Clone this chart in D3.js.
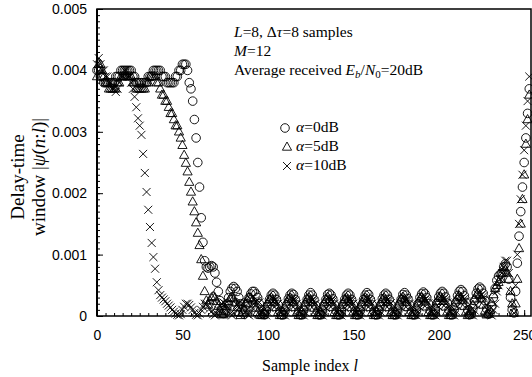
<!DOCTYPE html>
<html>
<head>
<meta charset="utf-8">
<script src="https://cdn.jsdelivr.net/npm/d3@7"></script>
<style>
  body { margin: 0; background: #fff; }
  svg { display: block; font-family: "Liberation Serif", "Times New Roman", serif; }
</style>
</head>
<body>
<div id="chart"></div>
<script>
// |psi(n:l)|, sample l = 0..253
const alpha0 = [
  .0040, .0040, .0039, .0039, .0038, .0038, .0038, .0038, .0038, .0038,
  .0038, .0039, .0039, .0039, .0040, .0040, .0040, .0040, .0040, .0040,
  .0040, .0039, .0039, .0038, .0038, .0038, .0038, .0038, .0038, .0038,
  .0039, .0039, .0039, .0040, .0040, .0040, .0040, .0040, .0039, .0039,
  .0039, .0038, .0038, .0038, .0038, .0038, .0039, .0039, .0040, .0040,
  .0041, .0041, .0041, .0040, .0038, .0037, .0035, .0032, .0029, .0025,
  .0021, .0016, .0012, .0009, .0008, .00078, .0008, .00082, .0008, .0007,
  .00055, .0004, .00025, .00012, .00004, .0001, .0002, .0003, .0004, .00045,
  .00048, .00045, .0004, .0003, .0002, .0001, .00003, .0001, .0002, .0003,
  .00036, .0004, .0004, .00036, .0003, .0002, .0001, .00004,
  .00002, .00008, .00018, .00027, .00034, .00037, .00034, .00027, .00018, .00008, .00002,
  .00002, .00008, .00018, .00028, .00034, .00037, .00035, .00027, .00018, .00008, .00002,
  .00002, .00009, .00018, .00027, .00034, .00038, .00034, .00027, .00017, .00008, .00002,
  .00002, .00008, .00018, .00027, .00035, .00037, .00034, .00028, .00018, .00008, .00002,
  .00002, .00008, .00019, .00027, .00034, .00037, .00034, .00027, .00018, .00009, .00002,
  .00002, .00008, .00018, .00027, .00034, .00038, .00035, .00027, .00018, .00008, .00002,
  .00002, .00009, .00018, .00028, .00034, .00037, .00034, .00027, .00018, .00008, .00002,
  .00002, .00008, .00018, .00027, .00035, .00038, .00034, .00028, .00018, .00008, .00002,
  .00002, .00009, .0002, .0003, .00036, .00039, .00036, .0003, .0002, .00009, .00002,
  .00002, .0001, .00021, .00031, .00037, .0004, .00037, .00031, .00021, .0001, .00002,
  .00002, .0001, .00022, .00033, .0004, .00043, .0004, .00033, .00022, .0001, .00002,
  .00003, .00012, .00025, .00037, .00044, .00047, .00044, .00037, .00025, .00012, .00003,
  .00005, .00015, .0003, .00045, .00058, .00065, .00068, .0007, .0008, .00085, .0008,
  .0006, .0003, .0001, .00005, .0004, .00086, .0013, .0017, .0021, .0025, .0029, .0033, .0037
];
const alpha5 = [
  .0039, .0041, .0041, .0040, .0039, .0038, .0038, .0037, .0037, .0037,
  .0037, .0037, .0038, .0038, .0039, .0039, .0039, .0039, .0039, .0039,
  .0039, .0038, .0038, .0037, .0037, .0037, .0037, .0037, .0037, .0038,
  .0038, .0039, .0039, .0039, .0039, .0038, .0038, .0037, .0036, .0036,
  .0035, .0035, .0034, .0033, .0033, .0032, .0031, .0031, .0030, .0029,
  .00278, .00262, .00249, .00235, .00218, .00202, .00186, .00170, .00152, .00135,
  .00115, .00092, .00065, .0004, .00025, .00018, .00025, .0003, .00032, .0003,
  .00024, .00016, .00008, .00003, .00002, .00008, .00016, .00024, .00029, .0003,
  .00028, .00022, .00014, .00006, .00001, .00005, .00013, .00021, .00027, .0003,
  .00029, .00026, .0002, .00013, .00006, .00002, .00001,
  .00001, .00006, .00014, .00022, .00027, .0003, .00027, .00022, .00014, .00006, .00001,
  .00001, .00006, .00014, .00023, .00027, .0003, .00028, .00022, .00014, .00006, .00001,
  .00001, .00007, .00014, .00022, .00028, .0003, .00027, .00022, .00013, .00006, .00001,
  .00001, .00006, .00015, .00022, .00027, .00031, .00027, .00022, .00014, .00006, .00001,
  .00001, .00006, .00014, .00022, .00027, .0003, .00027, .00023, .00014, .00007, .00001,
  .00001, .00006, .00014, .00022, .00028, .0003, .00028, .00022, .00014, .00006, .00001,
  .00001, .00007, .00014, .00022, .00027, .0003, .00027, .00022, .00014, .00006, .00001,
  .00001, .00006, .00015, .00023, .00028, .00031, .00028, .00022, .00014, .00006, .00001,
  .00001, .00006, .00015, .00023, .00028, .00031, .00028, .00023, .00015, .00006, .00001,
  .00001, .00007, .00015, .00024, .00029, .00032, .00029, .00024, .00015, .00007, .00001,
  .00001, .00007, .00016, .00025, .0003, .00033, .0003, .00025, .00016, .00007, .00001,
  .00002, .00008, .00018, .00028, .00034, .00038, .00034, .00028, .00018, .00008, .00002,
  .00003, .0001, .00022, .00035, .00045, .0005, .00055, .0006, .0007, .0008, .00075,
  .0007, .0006, .0004, .0002, .00005, .0002, .0006, .0011, .0015, .0019, .0023, .0028, .0032, .0036
];
const alpha10 = [
  .0041, .0042, .0041, .0040, .0040, .0039, .0039, .0038, .0038, .0037,
  .0037, .00365, .0037, .0038, .0039, .0039, .0040, .0040, .0039, .0039,
  .0038, .0037, .00357, .0034, .00322, .0031, .00295, .00264, .00233, .00202,
  .00173, .00145, .00119, .00096, .00077, .00055, .00042, .00034, .0003, .00027,
  .00024, .0002, .00017, .00014, .0001, .00007, .00004, .00002, .00001, .00003,
  .0001, .00015, .0002, .0002, .00018, .00014, .0001, .00005, .00002, .00001,
  .00004, .0001, .00015, .0002, .0002, .00017, .00012, .00007, .00003, .00001,
  .00004, .0001, .00016, .0002, .00022, .0002, .00015, .0001, .00004, .00001,
  .00005, .00012, .00018, .00022, .00023, .0002, .00014, .00008, .00003, .00001,
  .00006, .00013, .0002, .00024, .00025, .00022, .00015, .00008, .00003, .00001,
  .00006, .00013, .0002, .00024, .00026, .00024, .0002, .00013, .00006, .00002, .00001,
  .00006, .00013, .0002, .00024, .00026, .00025, .0002, .00013, .00006, .00002, .00001,
  .00006, .00014, .0002, .00024, .00026, .00024, .0002, .00013, .00006, .00002, .00001,
  .00006, .00013, .00021, .00024, .00026, .00024, .0002, .00014, .00006, .00002, .00001,
  .00006, .00013, .0002, .00025, .00026, .00024, .0002, .00013, .00006, .00002, .00001,
  .00006, .00013, .0002, .00024, .00027, .00024, .0002, .00013, .00007, .00002, .00001,
  .00007, .00013, .0002, .00024, .00026, .00024, .00021, .00013, .00006, .00002, .00001,
  .00006, .00014, .0002, .00025, .00027, .00025, .0002, .00014, .00006, .00002, .00001,
  .00007, .00014, .00021, .00025, .00027, .00025, .00021, .00014, .00007, .00002, .00001,
  .00007, .00015, .00022, .00026, .00028, .00026, .00022, .00015, .00007, .00002, .00001,
  .00008, .00016, .00024, .00028, .0003, .00028, .00024, .00016, .00008, .00002, .00001,
  .00009, .00018, .00027, .00032, .00034, .00032, .00027, .00018, .00009, .00003, .00001,
  .0001, .0002, .0004, .0005, .0006, .0007, .0008, .0009, .0009, .0007, .0004,
  .0002, .00005, .0005, .001, .0015, .0019, .0023, .0027, .0031, .0035, .0039
];

const yTicks = [0, 0.001, 0.002, 0.003, 0.004, 0.005];
const xTicks = [0, 50, 100, 150, 200, 250];
const alphaLabels = ['=0dB', '=5dB', '=10dB'];

let width = 532, height = 377;

let svg = d3.select('#chart').append('svg')
    .attr('width', width)
    .attr('height', height);

let x = d3.scaleLinear().domain([0, 254]).range([97, 531]),
    y = d3.scaleLinear().domain([0, 0.005]).range([316, 9]);

// minor ticks, pointing inward
svg.append('g')
    .attr('transform', `translate(${x.range()[0]},0)`)
    .call(d3.axisLeft(y).ticks(50).tickSize(-3).tickFormat(''))
    .call(g => g.select('.domain').remove());
svg.append('g')
    .attr('transform', `translate(0,${y.range()[0]})`)
    .call(d3.axisBottom(x).tickValues(d3.range(0, 255, 5)).tickSize(-3).tickFormat(''))
    .call(g => g.select('.domain').remove());

// major ticks + labels
svg.append('g')
    .attr('transform', `translate(${x.range()[0]},0)`)
    .call(d3.axisLeft(y).tickValues(yTicks).tickSize(-6).tickPadding(10)
        .tickFormat(d => d === 0 ? '0' : d.toFixed(3)))
    .call(g => g.select('.domain').remove())
    .call(g => g.selectAll('text').attr('font-size', 14).attr('font-family', null).attr('fill', '#000'));
svg.append('g')
    .attr('transform', `translate(0,${y.range()[0]})`)
    .call(d3.axisBottom(x).tickValues(xTicks).tickSize(-6).tickPadding(14))
    .call(g => g.select('.domain').remove())
    .call(g => g.selectAll('text').attr('font-size', 14).attr('font-family', null).attr('fill', '#000'));

svg.append('rect')
    .attr('x', x.range()[0]).attr('y', y.range()[1])
    .attr('width', x.range()[1] - x.range()[0])
    .attr('height', y.range()[0] - y.range()[1])
    .attr('fill', 'none').attr('stroke', '#000').attr('stroke-width', 1.5);
svg.append('line')
    .attr('x1', x.range()[0]).attr('x2', x.range()[0])
    .attr('y1', y.range()[1]).attr('y2', y.range()[0])
    .attr('stroke', '#000').attr('stroke-width', 2);

// marker shapes
const shapes = {
    circle: 'M4.3,0A4.3,4.3 0 1,1 -4.3,0A4.3,4.3 0 1,1 4.3,0Z',
    triangle: 'M0,-5L4.6,3.2L-4.6,3.2Z',
    cross: 'M-4,-4L4,4M-4,4L4,-4'
};
const series = [
    {values: alpha0, shape: shapes.circle},
    {values: alpha5, shape: shapes.triangle},
    {values: alpha10, shape: shapes.cross}
];

series.forEach(s => {
    svg.append('g')
        .selectAll('path')
        .data(s.values)
        .join('path')
        .attr('transform', (d, i) => `translate(${x(i)},${y(d)})`)
        .attr('d', s.shape)
        .attr('fill', 'none')
        .attr('stroke', '#000')
        .attr('stroke-width', 0.9);
});

// annotations
let note = svg.append('g').attr('font-size', 15.5);
let t1 = note.append('text').attr('x', 234).attr('y', 37);
t1.append('tspan').attr('font-style', 'italic').text('L');
t1.append('tspan').text('=8, Δ');
t1.append('tspan').attr('font-style', 'italic').text('τ');
t1.append('tspan').text('=8 samples');
let t2 = note.append('text').attr('x', 234).attr('y', 56);
t2.append('tspan').attr('font-style', 'italic').text('M');
t2.append('tspan').text('=12');
let t3 = note.append('text').attr('x', 234).attr('y', 75);
t3.append('tspan').text('Average received ');
t3.append('tspan').attr('font-style', 'italic').text('E');
t3.append('tspan').attr('font-style', 'italic').attr('font-size', 11).attr('dy', 3).text('b');
t3.append('tspan').attr('dy', -3).text('/');
t3.append('tspan').attr('font-style', 'italic').text('N');
t3.append('tspan').attr('font-size', 11).attr('dy', 3).text('0');
t3.append('tspan').attr('dy', -3).text('=20dB');

// legend
let legend = svg.append('g');
series.forEach((s, i) => {
    let ly = 132 + i * 19;
    legend.append('path')
        .attr('transform', `translate(${285 + (i ? 2 : 0)},${ly - 4})`)
        .attr('d', s.shape)
        .attr('fill', 'none').attr('stroke', '#000').attr('stroke-width', 0.9);
    let t = legend.append('text').attr('x', 296).attr('y', ly).attr('font-size', 15.5);
    t.append('tspan').attr('font-style', 'italic').text('α');
    t.append('tspan').text(alphaLabels[i]);
});

// axis titles
svg.append('text')
    .attr('x', 310).attr('y', 371)
    .attr('text-anchor', 'middle').attr('font-size', 16)
    .call(t => {
        t.append('tspan').text('Sample index ');
        t.append('tspan').attr('font-style', 'italic').text('l');
    });

let yt = svg.append('g')
    .attr('transform', 'translate(0,177) rotate(-90)')
    .attr('text-anchor', 'middle').attr('font-size', 19);
yt.append('text').attr('x', 0).attr('y', 24).text('Delay-time');
let yt2 = yt.append('text').attr('x', 0).attr('y', 45);
yt2.append('tspan').text('window |');
yt2.append('tspan').attr('font-style', 'italic').text('ψ');
yt2.append('tspan').text('(');
yt2.append('tspan').attr('font-style', 'italic').text('n');
yt2.append('tspan').text(':');
yt2.append('tspan').attr('font-style', 'italic').text('l');
yt2.append('tspan').text(')|');
</script>
</body>
</html>
